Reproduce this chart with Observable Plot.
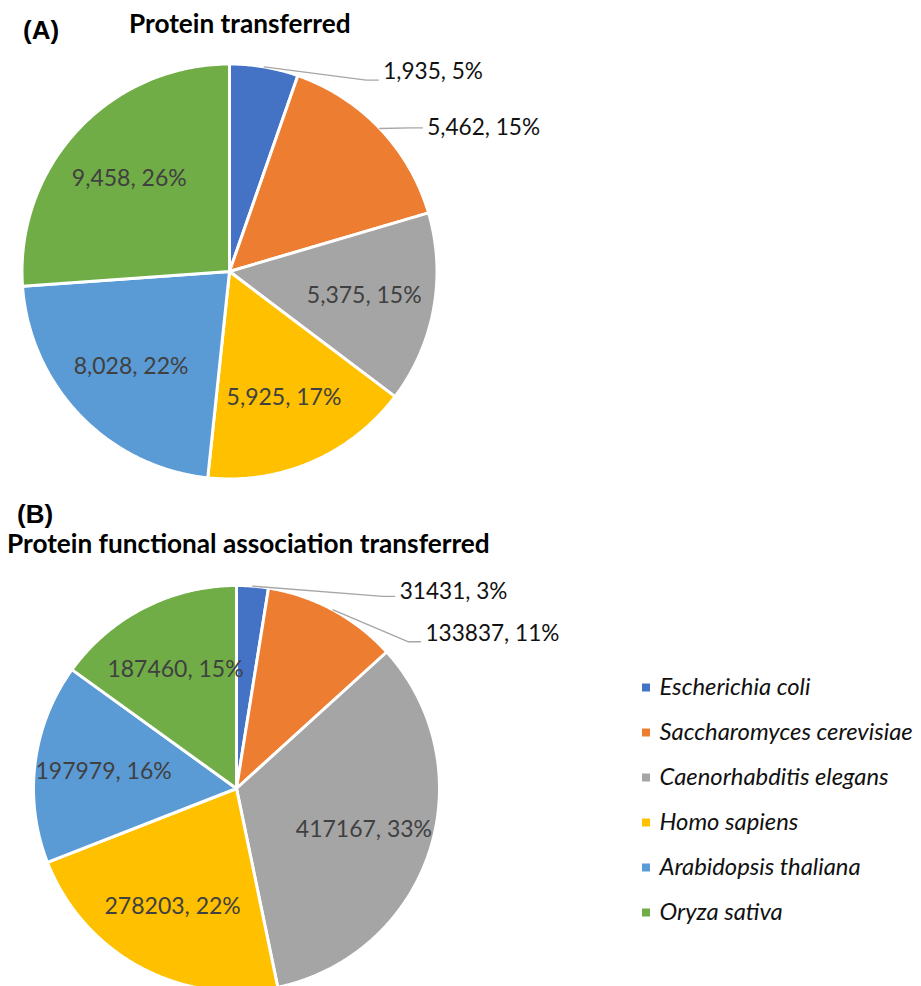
<!DOCTYPE html>
<html>
<head>
<meta charset="utf-8">
<script src="https://cdn.jsdelivr.net/npm/d3@7"></script>
<script src="https://cdn.jsdelivr.net/npm/@observablehq/plot@0.6"></script>
<style>
  body { margin: 0; background: #fff; }
  #figure { position: relative; width: 921px; height: 986px; overflow: hidden; background: #fff; }
  #figure > * { position: absolute; }
  .tag { font-family: "Liberation Sans", Arial, sans-serif; font-weight: bold; font-size: 26px; line-height: 24px; color: #000; white-space: nowrap; }
  .title { font-family: Lato, sans-serif; font-weight: bold; font-size: 26.2px; line-height: 24px; color: #000; white-space: nowrap; }
</style>
</head>
<body>
<div id="figure"></div>
<script>
// ---- data ----
const species = [
  "Escherichia coli",
  "Saccharomyces cerevisiae",
  "Caenorhabditis elegans",
  "Homo sapiens",
  "Arabidopsis thaliana",
  "Oryza sativa"
];
const proteinsTransferred = [1935, 5462, 5375, 5925, 8028, 9458];
const associationsTransferred = [31431, 133837, 417167, 278203, 197979, 187460];
const speciesColors = ["#4472C4", "#ED7D31", "#A5A5A5", "#FFC000", "#5B9BD5", "#70AD47"];
const panelTags = ["(A)", "(B)"];
const panelTitles = ["Protein transferred", "Protein functional association transferred"];
// thin slices whose labels sit outside the pie on a leader line
const calloutSpecies = ["Escherichia coli", "Saccharomyces cerevisiae"];

// ---- helpers ----
// largest-remainder rounding so the printed shares add up to 100
function percentLabels(values) {
  const total = d3.sum(values);
  const raw = values.map(v => v / total * 100);
  const out = raw.map(Math.floor);
  const missing = 100 - d3.sum(out);
  const order = d3.range(values.length).sort((i, j) => (raw[j] - out[j]) - (raw[i] - out[i]));
  for (let k = 0; k < missing; k++) out[order[k]]++;
  return out;
}

// wedges, clockwise from twelve o'clock in data order
function pieSlices(values, format) {
  const pct = percentLabels(values);
  return d3.pie().sort(null)(values).map((a, i) => ({
    species: species[i],
    value: values[i],
    start: a.startAngle,
    end: a.endAngle,
    mid: (a.startAngle + a.endAngle) / 2,
    label: `${format(values[i])}, ${pct[i]}%`
  }));
}

// closed outline of each wedge in unit-radius coordinates
function wedgeOutlines(slices) {
  const pts = [];
  for (const s of slices) {
    const n = Math.max(2, Math.ceil((s.end - s.start) / (Math.PI / 360)));
    pts.push({species: s.species, x: 0, y: 0});
    for (let k = 0; k <= n; k++) {
      const a = s.start + (s.end - s.start) * k / n;
      pts.push({species: s.species, x: Math.sin(a), y: Math.cos(a)});
    }
    pts.push({species: s.species, x: 0, y: 0});
  }
  return pts;
}

function pieChart({values, format, width, height, cx, cy, R, callouts}) {
  const slices = pieSlices(values, format);
  const px = 1 / R; // one pixel in radius units
  const inside = slices.filter(s => !calloutSpecies.includes(s.species));
  const outside = slices
    .filter(s => calloutSpecies.includes(s.species))
    .map(s => ({...s, ...callouts[s.species]}));
  const leaders = outside.flatMap(s => {
    const yl = s.ty - s.hook * px;
    return [
      {species: s.species, x: Math.sin(s.mid), y: Math.cos(s.mid)},
      {species: s.species, x: s.tx - 17 * px, y: yl},
      {species: s.species, x: s.tx - 5 * px, y: yl}
    ];
  });
  return Plot.plot({
    width, height,
    margin: 0,
    x: {domain: [-1, 1], range: [cx - R, cx + R], axis: null},
    y: {domain: [-1, 1], range: [cy + R, cy - R], axis: null},
    color: {domain: species, range: speciesColors},
    style: {background: "transparent", overflow: "hidden"},
    marks: [
      Plot.line(wedgeOutlines(slices), {
        x: "x", y: "y", z: "species", fill: "species",
        stroke: "white", strokeWidth: 3, strokeLinejoin: "round"
      }),
      Plot.text(inside, {
        x: d => 0.66 * Math.sin(d.mid),
        y: d => 0.66 * Math.cos(d.mid),
        text: "label", fill: "#404040", fontSize: 23, fontFamily: "Lato"
      }),
      Plot.line(leaders, {
        x: "x", y: "y", z: "species",
        stroke: "#A6A6A6", strokeWidth: 1.4, fill: "none"
      }),
      Plot.text(outside, {
        x: "tx", y: "ty", text: "label", textAnchor: "start",
        fill: "#111", fontSize: 22.6, fontFamily: "Lato"
      })
    ]
  });
}

function legendChart() {
  return Plot.plot({
    width: 301, height: 280,
    margin: 0,
    x: {domain: [0, 1], range: [25.5, 301], axis: null},
    y: {type: "point", domain: species, range: [32, 257], padding: 0, axis: null},
    color: {domain: species, range: speciesColors},
    style: {background: "transparent"},
    marks: [
      Plot.dot(species, {x: () => 0, y: d => d, fill: d => d, symbol: "square", r: 4.5}),
      Plot.text(species, {
        x: () => 0, y: d => d, text: d => d, dx: 13.5, textAnchor: "start",
        fill: "#111", fontSize: 23.8, fontFamily: "Lato", fontStyle: "italic"
      })
    ]
  });
}

// ---- layout ----
const fig = document.getElementById("figure");
function place(el, left, top) {
  el.style.left = left + "px";
  el.style.top = top + "px";
  fig.appendChild(el);
  return el;
}
function label(cls, text, left, top) {
  const d = document.createElement("div");
  d.className = cls;
  d.textContent = text;
  return place(d, left, top);
}

const pieA = pieChart({
  values: proteinsTransferred,
  format: d3.format(","),
  width: 600, height: 440, cx: 229, cy: 221, R: 207.5,
  callouts: {
    "Escherichia coli": {tx: 0.741, ty: 0.961, hook: 8},
    "Saccharomyces cerevisiae": {tx: 0.953, ty: 0.692, hook: 0}
  }
});
place(pieA, 0, 50);

const pieB = pieChart({
  values: associationsTransferred,
  format: d3.format("d"),
  width: 600, height: 421, cx: 236, cy: 223, R: 203,
  callouts: {
    "Escherichia coli": {tx: 0.804, ty: 0.971, hook: 5},
    "Saccharomyces cerevisiae": {tx: 0.931, ty: 0.762, hook: 8}
  }
});
place(pieB, 0, 565);

place(legendChart(), 620, 655);

label("tag", panelTags[0], 23, 18);
label("tag", panelTags[1], 17, 502);
label("title", panelTitles[0], 129, 11);
label("title", panelTitles[1], 7, 531);
</script>
</body>
</html>
